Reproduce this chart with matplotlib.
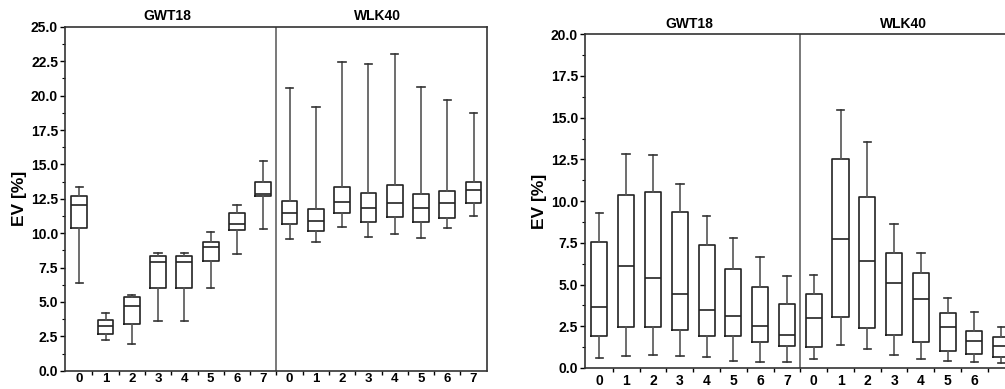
import numpy as np
import matplotlib
matplotlib.use("Agg")
import matplotlib.pyplot as plt
from matplotlib.ticker import MultipleLocator

plt.rcParams['font.family'] = ['Liberation Sans', 'DejaVu Sans']
plt.rcParams['font.weight'] = 'bold'

groups = ['GWT18', 'WLK40']
labels = ['0', '1', '2', '3', '4', '5', '6', '7'] * 2
# the last label of the right chart falls off the edge of the picture
labels_right = labels[:-1] + ['']

# left chart: whisker low, q1, median, q3, whisker high
left_wlo = [6.39, 2.20, 1.91, 3.64, 3.64, 5.98, 8.46, 10.33,
            9.54, 9.33, 10.43, 9.73, 9.95, 9.62, 10.38, 11.23]
left_q1 = [10.39, 2.68, 3.38, 5.98, 5.98, 8.00, 10.20, 12.68,
           10.65, 10.19, 11.45, 10.82, 11.16, 10.82, 11.11, 12.22]
left_med = [12.08, 3.28, 4.73, 7.88, 7.88, 9.00, 10.68, 12.85,
            11.47, 10.85, 12.27, 11.84, 12.22, 11.86, 12.22, 13.14]
left_q3 = [12.68, 3.67, 5.35, 8.32, 8.32, 9.36, 11.47, 13.74,
           12.34, 11.74, 13.36, 12.90, 13.50, 12.88, 13.07, 13.72]
left_whi = [13.38, 4.19, 5.50, 8.58, 8.58, 10.12, 12.05, 15.24,
            20.56, 19.18, 22.41, 22.32, 23.02, 20.65, 19.71, 18.77]

# right chart
right_wlo = [0.58, 0.70, 0.80, 0.72, 0.64, 0.44, 0.34, 0.38,
             0.56, 1.40, 1.12, 0.78, 0.54, 0.40, 0.38, 0.30]
right_q1 = [1.92, 2.46, 2.46, 2.26, 1.94, 1.90, 1.54, 1.32,
            1.28, 3.06, 2.40, 2.00, 1.58, 1.00, 0.84, 0.68]
right_med = [3.64, 6.14, 5.40, 4.46, 3.50, 3.10, 2.52, 1.96,
             2.98, 7.74, 6.44, 5.08, 4.16, 2.46, 1.64, 1.34]
right_q3 = [7.54, 10.38, 10.54, 9.32, 7.36, 5.94, 4.88, 3.84,
            4.44, 12.50, 10.24, 6.90, 5.70, 3.32, 2.22, 1.84]
right_whi = [9.26, 12.80, 12.74, 11.04, 9.10, 7.78, 6.64, 5.54,
             5.56, 15.46, 13.54, 8.60, 6.90, 4.20, 3.36, 2.48]


def draw(ax, wlo, q1, med, q3, whi, xlabels, ymax, title_y, xpad, xsize):
    stats = []
    for i in range(len(med)):
        stats.append(dict(whislo=wlo[i], q1=q1[i], med=med[i], q3=q3[i],
                          whishi=whi[i], fliers=[]))
    pos = np.arange(len(med))
    ax.bxp(stats, positions=pos, widths=0.6, capwidths=0.28,
           showfliers=False, manage_ticks=False,
           boxprops=dict(color='#222222', lw=1.2),
           medianprops=dict(color='#222222', lw=1.2),
           whiskerprops=dict(color='#555555', lw=1.2),
           capprops=dict(color='#333333', lw=1.2))
    ax.set_xlim(-0.54, 15.5)
    ax.axvline(7.5, color='#555555', lw=1.1)
    for s in ax.spines.values():
        s.set_color('#333333')
        s.set_linewidth(1.2)
    yt = np.arange(0, ymax + 0.1, 2.5)
    ax.set_yticks(yt, ['%.1f' % v for v in yt])
    ax.yaxis.set_minor_locator(MultipleLocator(1.25))
    ax.tick_params(axis='y', which='major', direction='out', length=3.5,
                   width=1, labelsize=10, pad=1.5, right=False)
    ax.tick_params(axis='y', which='minor', direction='out', length=2,
                   width=0.8, right=False)
    ax.set_xticks(np.arange(0.5, 15.5, 1.0))
    ax.set_xticklabels([])
    ax.set_xticks(pos, xlabels, minor=True)
    ax.tick_params(axis='x', which='major', direction='out', length=3,
                   width=1, top=False)
    ax.tick_params(axis='x', which='minor', length=0, labelsize=xsize,
                   pad=xpad)
    ax.set_ylim(0, ymax)
    ax.set_ylabel('EV [%]', fontsize=12.5, fontweight='bold', labelpad=3)
    for k, g in enumerate(groups):
        ax.text(3.5 + 8 * k - 0.15, title_y, g, ha='center', va='bottom',
                fontsize=10, fontweight='bold', clip_on=False)


fig = plt.figure(figsize=(10.05, 3.89), dpi=100)
ax1 = fig.add_axes([0.0647, 0.047, 0.4196, 0.884])
ax2 = fig.add_axes([0.582, 0.054, 0.4276, 0.858])

draw(ax1, left_wlo, left_q1, left_med, left_q3, left_whi, labels,
     25, 25.25, 1.5, 9.5)
draw(ax2, right_wlo, right_q1, right_med, right_q3, right_whi, labels_right,
     20, 20.2, 4, 10)

fig.savefig('out.png', dpi=100, facecolor='white')
